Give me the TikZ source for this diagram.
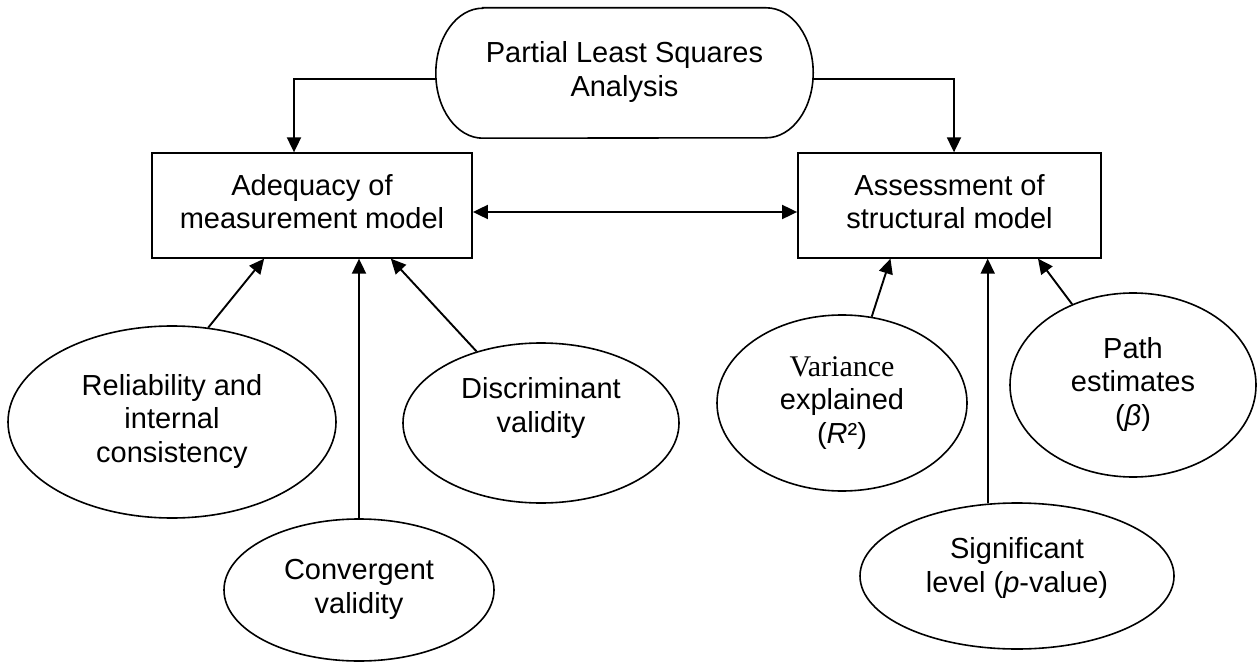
\documentclass[tikz,border=0pt]{standalone}
\usepackage{fontspec}
\setmainfont{Liberation Sans}
\newfontfamily\tnrfont{Liberation Serif}
\usetikzlibrary{arrows.meta,shapes.geometric}
\begin{document}
\begin{tikzpicture}[x=1pt,y=-1pt,
  every node/.style={font=\fontsize{29}{33.5}\selectfont, align=center},
  box/.style={draw, line width=1.8pt, rectangle, inner sep=0pt},
  oval/.style={draw, line width=1.6pt, ellipse, inner sep=0pt},
  lbl/.style={inner sep=0pt},
  conn/.style={line width=1.9pt, -{Triangle[length=15pt,width=14pt]}},
  both/.style={line width=1.9pt, {Triangle[length=15pt,width=14pt]}-{Triangle[length=15pt,width=14pt]}},
]
\fill[white] (0,0) rectangle (1260,668);
\useasboundingbox (0,0) rectangle (1260,668);

% top pill
\node[minimum width=377pt, minimum height=130pt, inner sep=0pt] (pls) at (624.5,73)
      {\strut Partial Least Squares\\Analysis\strut};
\draw[line width=1.6pt] ([xshift=47pt]pls.north west) -- ([xshift=-47pt]pls.north east)
   arc[start angle=90, end angle=-90, x radius=47pt, y radius=65pt]
   -- ([xshift=47pt]pls.south west)
   arc[start angle=270, end angle=90, x radius=47pt, y radius=65pt] -- cycle;

% boxes
\node[box, minimum width=320pt, minimum height=104.5pt] (adeq) at (312,205.5)
      {\strut Adequacy of\\measurement model\strut};
\node[box, minimum width=303pt, minimum height=104.5pt] (assess) at (949.5,205.5)
      {\strut Assessment of\\structural model\strut};

% left ellipses
\node[oval, minimum width=328pt, minimum height=192pt] (rel) at (172,422)
      {\strut Reliability and\\internal\\consistency\strut};
\node[oval, minimum width=270pt, minimum height=142pt] (conv) at (359,590)
      {\strut Convergent\\validity\strut};
\node[oval, minimum width=276pt, minimum height=160pt] (disc) at (541,423) {};
\node[lbl] (disct) at (541,409) {\strut Discriminant\\validity\strut};

% right ellipses
\node[oval, minimum width=250pt, minimum height=176pt] (var) at (842,403)
      {\strut{\tnrfont\fontsize{30}{33.5}\selectfont Variance}\\explained\\(\textit{R}²)\strut};
\node[oval, minimum width=314pt, minimum height=146pt] (sig) at (1017,576) {};
\node[lbl] (sigt) at (1017,569) {\strut Significant\\level (\textit{p}-value)\strut};
\node[oval, minimum width=246pt, minimum height=184pt] (path) at (1133,385)
      {\strut Path\\estimates\\(\textit{β})\strut};

% connectors
\draw[conn] ([yshift=-6pt]pls.west) -| ([xshift=-18pt]adeq.north);
\draw[conn] ([yshift=-6pt]pls.east) -| ([xshift=4.5pt]assess.north);
\draw[both] ([yshift=-6.5pt]adeq.east) -- ([yshift=-6.5pt]assess.west);

\draw[conn] (rel.69) -- (adeq.228);
\draw[conn] (conv.north) -- (conv.north |- adeq.south);
\draw[conn] (disc.132) -- (adeq.326);

\draw[conn] (var.71) -- (assess.222);
\draw[conn] (sig.112) -- (sig.112 |- assess.south);
\draw[conn] (path.127) -- (assess.329);
\end{tikzpicture}
\end{document}
